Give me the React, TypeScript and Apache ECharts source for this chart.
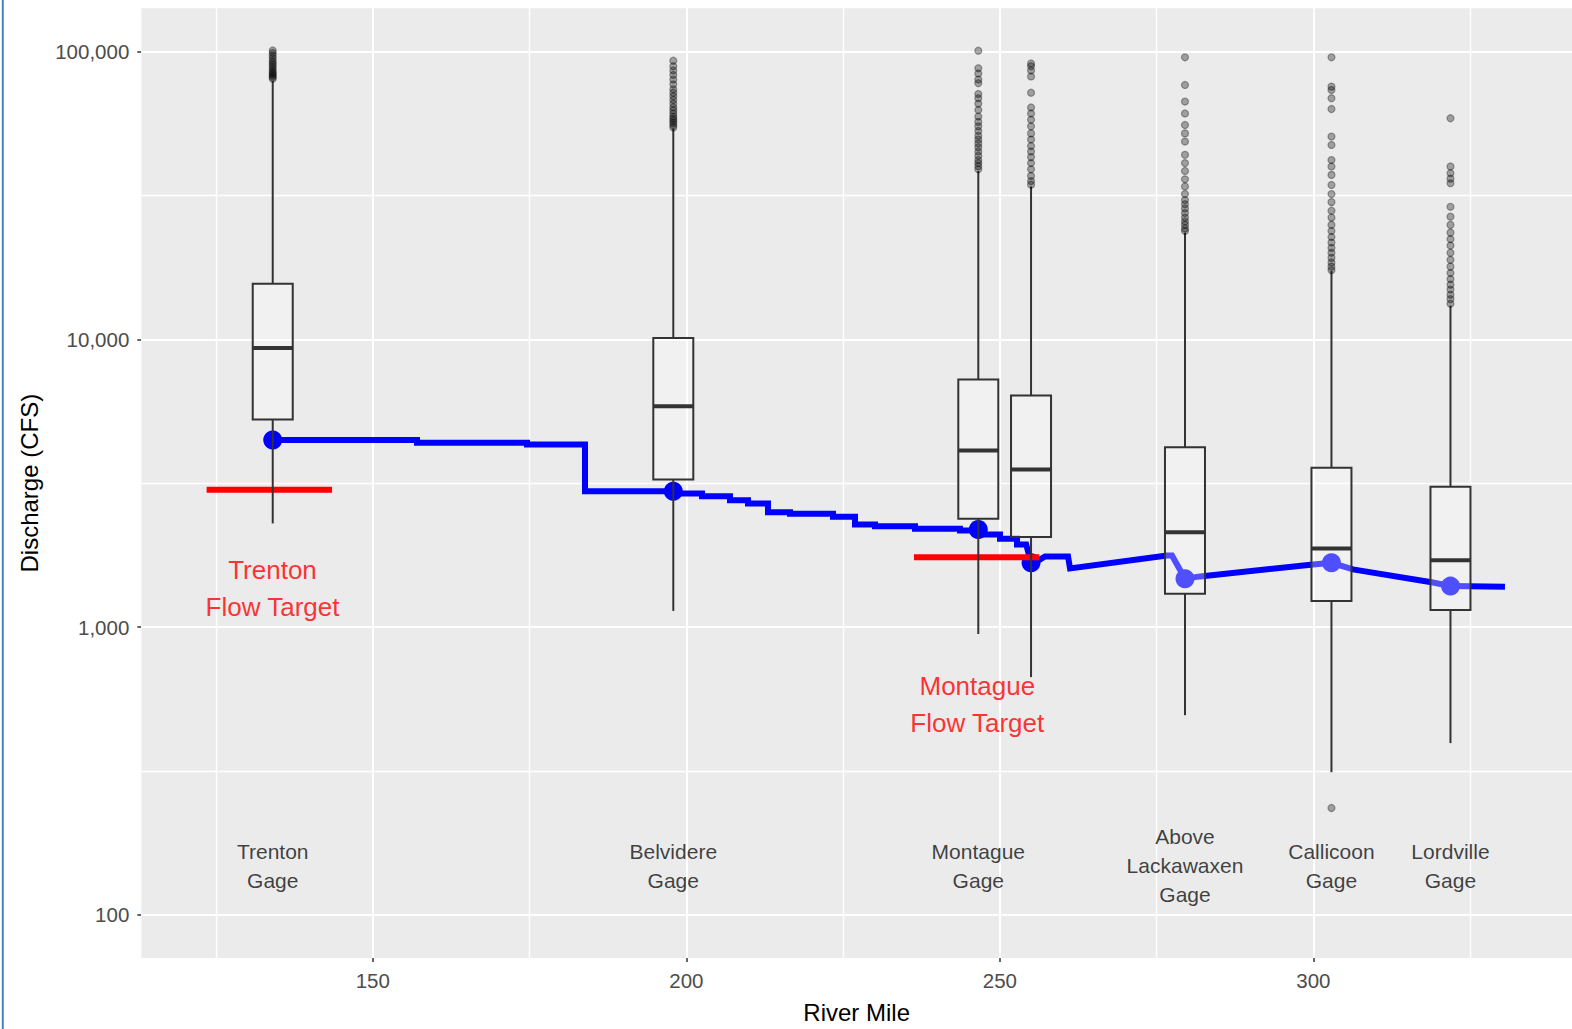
import React, { useEffect, useRef } from "react";
import * as echarts from "echarts";

// ---------- data ----------
const xTicks = [150, 200, 250, 300];
const xMinorGrid = [125, 175, 225, 275, 325];
const yTicks = [100, 1000, 10000, 100000];
const yMinorGrid = [316.23, 3162.3, 31623];

const gageMiles = [134.04, 197.92, 246.56, 254.97, 279.52, 302.88, 321.86];
const whiskerLow = [2292, 1138, 946, 670, 494, 313, 395];
const quartile1 = [5263, 3256, 2379, 2057, 1306, 1231, 1146];
const medians = [9335, 5853, 4106, 3528, 2137, 1876, 1708];
const quartile3 = [15610, 10113, 7246, 6376, 4217, 3577, 3072];
const whiskerHigh = [79000, 54000, 38500, 34000, 23500, 17300, 13100];

const outliersTrenton = [80500, 81500, 82500, 83500, 84500, 85500, 87000, 88500, 90000, 91500, 93000, 95000, 97000, 99000, 101000];
const outliersBelvidere = [54500, 55500, 56500, 57500, 58500, 59500, 61000, 62500, 64000, 66000, 68000, 70000, 72000, 74000, 77000, 80000, 83000, 86000, 89000, 93000];
const outliersMontague = [39000, 40000, 41000, 42000, 43500, 45000, 46500, 48000, 49500, 51000, 53000, 55000, 57000, 59500, 62700, 66000, 68900, 71300, 77700, 80000, 84000, 87600, 100800];
const outliersPortJervis = [34500, 35500, 37000, 39000, 41000, 43000, 45000, 47000, 49500, 52000, 55000, 58000, 61000, 64000, 72000, 82000, 86000, 89000, 91000];
const outliersLackawaxen = [23800, 24300, 25000, 25700, 26500, 27500, 28500, 29500, 30500, 32000, 34000, 36000, 38500, 41000, 43800, 48700, 52000, 55600, 61000, 67100, 76600, 95600];
const outliersCallicoon = [235, 17400, 17900, 18500, 19200, 20000, 20800, 21700, 22700, 23800, 25000, 26500, 28000, 30000, 32000, 34400, 37300, 39900, 42000, 47400, 50700, 63200, 68900, 73600, 75600, 95600];
const outliersLordville = [13300, 13800, 14300, 14900, 15500, 16200, 17000, 17900, 18900, 20000, 21200, 22300, 23500, 25000, 26700, 28900, 34900, 36200, 37800, 39900, 58700];
const outlierSets = [outliersTrenton, outliersBelvidere, outliersMontague, outliersPortJervis, outliersLackawaxen, outliersCallicoon, outliersLordville];

const gageFlows = [4467, 2967, 2184, 1673, 1473, 1673, 1388];

const flowMiles = [134.04, 157.05, 157.05, 174.59, 174.59, 183.84, 183.84, 197.87, 197.87, 202.5, 202.5, 206.96, 206.96, 209.83, 209.83, 213.02, 213.02, 216.53, 216.53, 223.39, 223.39, 226.9, 226.9, 230.09, 230.09, 236.47, 236.47, 243.64, 243.64, 246.56, 246.56, 250.02, 250.02, 252.73, 252.73, 254.2, 254.97, 256.4, 257.2, 260.87, 261.19, 276.65, 277.45, 279.52, 281.92, 299.94, 302.88, 306.31, 319.07, 321.86, 330.55];
const flowValues = [4467, 4467, 4368, 4368, 4309, 4309, 2967, 2967, 2912, 2912, 2850, 2850, 2761, 2761, 2689, 2689, 2508, 2508, 2476, 2476, 2417, 2417, 2273, 2273, 2243, 2243, 2196, 2196, 2167, 2167, 2098, 2098, 2027, 2027, 1937, 1937, 1673, 1718, 1760, 1760, 1598, 1774, 1774, 1473, 1500, 1651, 1673, 1586, 1429, 1388, 1381];

const labelMiles = [134.04, 197.92, 246.56, 279.52, 302.88, 321.86];
const labelTexts = ["Trenton\nGage", "Belvidere\nGage", "Montague\nGage", "Above\nLackawaxen\nGage", "Callicoon\nGage", "Lordville\nGage"];
const labelLevel = 148;

const targetTexts = ["Trenton\nFlow Target", "Montague\nFlow Target"];
const targetFlows = [3000, 1750];
const targetStart = [123.5, 236.3];
const targetEnd = [143.5, 256.3];
const targetLabelMiles = [134, 246.4];
const targetLabelFlows = [1360, 540];

// ---------- styles ----------
const FONT = "'Liberation Sans', Arial, sans-serif";
const BOX_HALF = 3.19;

const fmtThousands = (v: number) => String(Math.round(v)).replace(/\B(?=(\d{3})+(?!\d))/g, ",");

export default function App() {
  const ref = useRef<HTMLDivElement>(null);

  useEffect(() => {
    if (!ref.current) return;
    const chart = echarts.init(ref.current, undefined, { renderer: "svg" });

    const major = { color: "#ffffff", type: "solid", width: 2 };
    const minor = { color: "#ffffff", type: "solid", width: 1.4 };
    const gridLines = [
      ...xTicks.map((v) => ({ xAxis: v, lineStyle: major })),
      ...xMinorGrid.map((v) => ({ xAxis: v, lineStyle: minor })),
      ...yTicks.map((v) => ({ yAxis: v, lineStyle: major })),
      ...yMinorGrid.map((v) => ({ yAxis: v, lineStyle: minor })),
    ];

    const boxData = gageMiles.map((m, i) => [m, whiskerLow[i], quartile1[i], medians[i], quartile3[i], whiskerHigh[i]]);
    const outlierData: number[][] = [];
    outlierSets.forEach((set, i) => set.forEach((v) => outlierData.push([gageMiles[i], v])));

    const option: any = {
      animation: false,
      backgroundColor: "#ffffff",
      textStyle: { fontFamily: FONT },
      grid: {
        left: 141.3,
        right: 0,
        top: 8.3,
        bottom: 64,
        show: true,
        backgroundColor: "#EBEBEB",
        borderWidth: 0,
      },
      xAxis: {
        type: "value",
        min: 113.08,
        max: 341.24,
        name: "River Mile",
        nameLocation: "middle",
        nameGap: 42,
        nameTextStyle: { fontSize: 24, color: "#000", fontFamily: FONT },
        axisLine: { show: false },
        axisTick: { show: true, length: 4, customValues: xTicks, lineStyle: { color: "#333", width: 1.5 } },
        axisLabel: { customValues: xTicks, fontSize: 20.5, color: "#4D4D4D", margin: 12, fontFamily: FONT },
        splitLine: { show: false },
      },
      yAxis: {
        type: "log",
        logBase: 10,
        min: 70.75,
        max: 141500,
        name: "Discharge (CFS)",
        nameLocation: "middle",
        nameGap: 100,
        nameRotate: 90,
        nameTextStyle: { fontSize: 24, color: "#000", fontFamily: FONT },
        axisLine: { show: false },
        axisTick: { show: true, length: 4, customValues: yTicks, lineStyle: { color: "#333", width: 1.5 } },
        axisLabel: {
          customValues: yTicks,
          fontSize: 20.5,
          color: "#4D4D4D",
          margin: 12,
          fontFamily: FONT,
          formatter: (v: number) => fmtThousands(v),
        },
        splitLine: { show: false },
      },
      graphic: [
        {
          type: "line",
          shape: { x1: 2.8, y1: 0, x2: 2.8, y2: 1029 },
          style: { stroke: "#4a7fcf", lineWidth: 2 },
          silent: true,
        },
      ],
      series: [
        {
          name: "grid",
          type: "line",
          data: [],
          z: 1,
          silent: true,
          markLine: {
            z: 1,
            silent: true,
            symbol: ["none", "none"],
            label: { show: false },
            lineStyle: { color: "#ffffff", type: "solid", width: 2, opacity: 1 },
            emphasis: { disabled: true },
            animation: false,
            data: gridLines,
          },
        },
        {
          name: "flow",
          type: "line",
          z: 2,
          silent: true,
          showSymbol: false,
          symbol: "none",
          lineStyle: { color: "#0000FF", width: 6, join: "miter" },
          data: flowMiles.map((m, i) => [m, flowValues[i]]),
        },
        {
          name: "gageFlow",
          type: "scatter",
          z: 3,
          silent: true,
          symbol: "circle",
          symbolSize: 19,
          itemStyle: { color: "#0000FF", opacity: 1 },
          data: gageMiles.map((m, i) => [m, gageFlows[i]]),
        },
        ...targetFlows.map((f, i) => ({
          name: "target" + i,
          type: "line",
          z: 4,
          silent: true,
          showSymbol: false,
          symbol: "none",
          lineStyle: { color: "#FF0000", width: 6, cap: "butt" },
          data: [
            [targetStart[i], f],
            [targetEnd[i], f],
          ],
        })),
        {
          name: "boxes",
          type: "custom",
          z: 5,
          silent: true,
          encode: { x: 0, y: [1, 2, 3, 4, 5] },
          data: boxData,
          renderItem: (params: any, api: any) => {
            const x = api.value(0);
            const lo = api.value(1);
            const q1 = api.value(2);
            const md = api.value(3);
            const q3 = api.value(4);
            const hi = api.value(5);
            const pLo = api.coord([x, lo]);
            const pHi = api.coord([x, hi]);
            const pQ1 = api.coord([x, q1]);
            const pQ3 = api.coord([x, q3]);
            const pTL = api.coord([x - BOX_HALF, q3]);
            const pBR = api.coord([x + BOX_HALF, q1]);
            const pML = api.coord([x - BOX_HALF, md]);
            const pMR = api.coord([x + BOX_HALF, md]);
            const stroke = "#333333";
            return {
              type: "group",
              children: [
                { type: "line", shape: { x1: pQ3[0], y1: pQ3[1], x2: pHi[0], y2: pHi[1] }, style: { stroke, lineWidth: 2 } },
                { type: "line", shape: { x1: pQ1[0], y1: pQ1[1], x2: pLo[0], y2: pLo[1] }, style: { stroke, lineWidth: 2 } },
                {
                  type: "rect",
                  shape: { x: pTL[0], y: pTL[1], width: pBR[0] - pTL[0], height: pBR[1] - pTL[1] },
                  style: { fill: "rgba(255,255,255,0.31)", stroke, lineWidth: 2 },
                },
                { type: "line", shape: { x1: pML[0], y1: pML[1], x2: pMR[0], y2: pMR[1] }, style: { stroke, lineWidth: 4 } },
              ],
            };
          },
        },
        {
          name: "outliers",
          type: "scatter",
          z: 6,
          silent: true,
          symbol: "circle",
          symbolSize: 7,
          itemStyle: { color: "rgba(0,0,0,0.32)", borderColor: "rgba(0,0,0,0.35)", borderWidth: 1.2, opacity: 1 },
          data: outlierData,
        },
        {
          name: "gageLabels",
          type: "scatter",
          z: 7,
          silent: true,
          symbolSize: 0,
          itemStyle: { color: "transparent" },
          label: {
            show: true,
            position: "inside",
            formatter: "{b}",
            fontSize: 21,
            lineHeight: 29,
            color: "#111111",
            fontFamily: FONT,
            align: "center",
            verticalAlign: "middle",
          },
          data: labelMiles.map((m, i) => ({ value: [m, labelLevel], name: labelTexts[i] })),
        },
        {
          name: "targetLabels",
          type: "scatter",
          z: 7,
          silent: true,
          symbolSize: 0,
          itemStyle: { color: "transparent" },
          label: {
            show: true,
            position: "inside",
            formatter: "{b}",
            fontSize: 26,
            lineHeight: 37,
            color: "#FF0000",
            fontFamily: FONT,
            align: "center",
            verticalAlign: "middle",
          },
          data: targetLabelMiles.map((m, i) => ({ value: [m, targetLabelFlows[i]], name: targetTexts[i] })),
        },
      ],
    };

    chart.setOption(option);
    return () => chart.dispose();
  }, []);

  return <div ref={ref} style={{ position: "absolute", left: 0, top: 0, width: 1572, height: 1029 }} />;
}
